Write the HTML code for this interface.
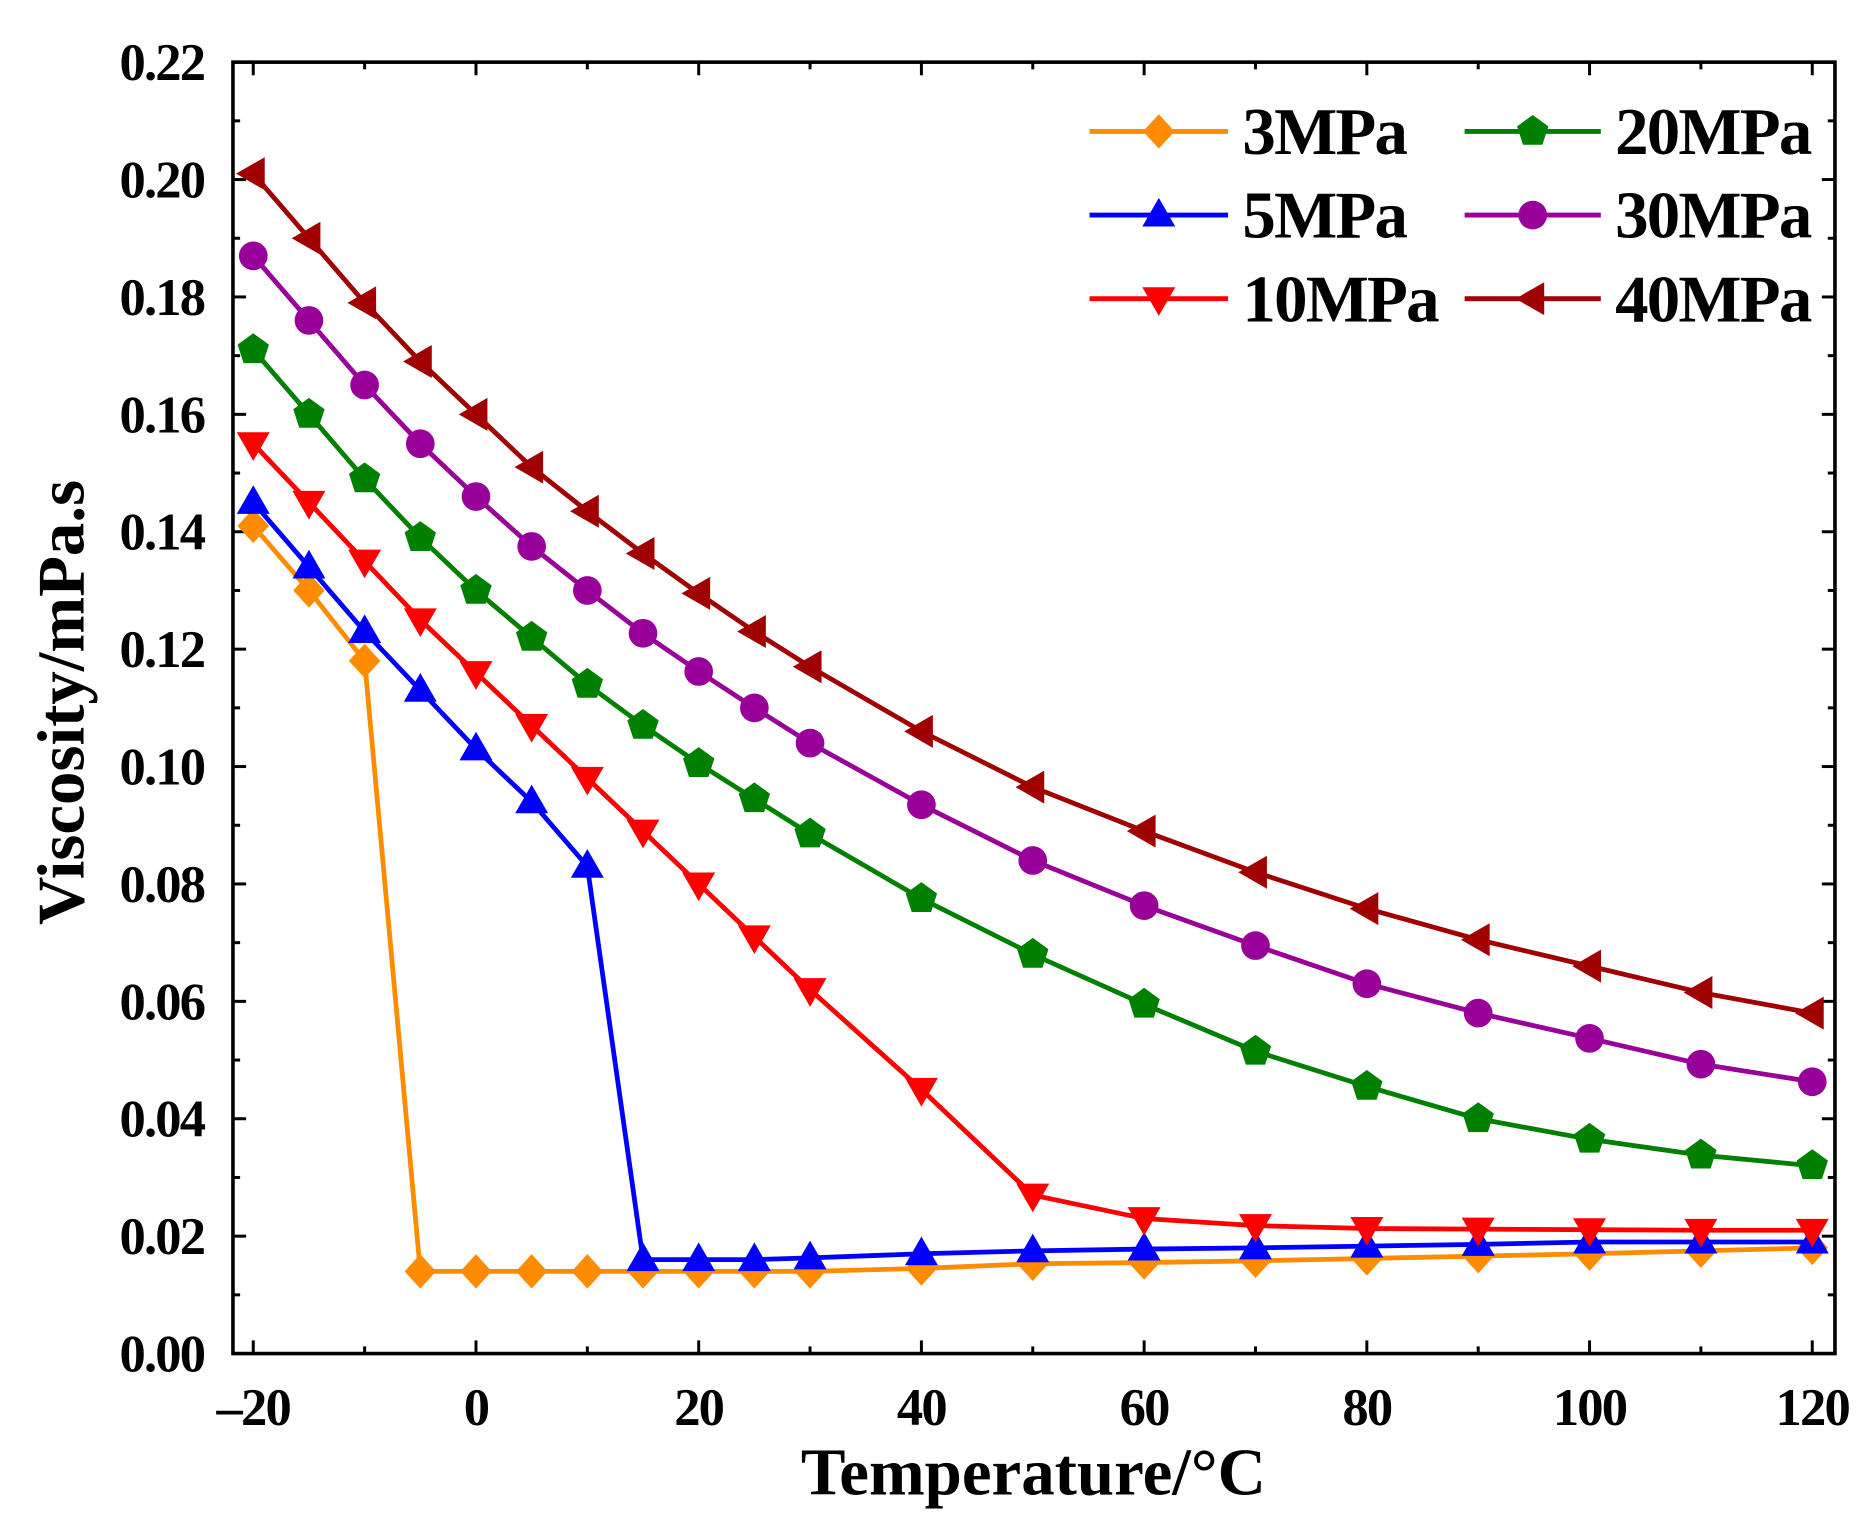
<!DOCTYPE html>
<html><head><meta charset="utf-8"><style>html,body{margin:0;padding:0;background:#fff}svg{display:block}</style></head>
<body>
<svg id="s" width="1872" height="1528" viewBox="0 0 1567 1279" xmlns="http://www.w3.org/2000/svg" font-family="'Liberation Serif',serif" font-weight="bold"></svg>
<script>
const s=document.getElementById('s');let h='';
const X=t=>212+(t+20)*9.3214, Y=v=>1133-v*(1081/0.22);
const L=195,R=1536,T=52,B=1133;
for(let v=0;v<=0.2201;v+=0.01){const y=Y(v);const maj=Math.round(v*100)%2==0;const l=maj?11:6;
h+=`<line x1="${L}" y1="${y}" x2="${L+l}" y2="${y}" stroke="#000" stroke-width="2.5"/><line x1="${R}" y1="${y}" x2="${R-l}" y2="${y}" stroke="#000" stroke-width="2.5"/>`;
if(maj)h+=`<text x="${L-24}" y="${y+15}" font-size="44" text-anchor="end" letter-spacing="-1.5">${v.toFixed(2)}</text>`;}
for(let t=-20;t<=120;t+=10){const x=X(t);const maj=t%20==0;const l=maj?11:6;
h+=`<line x1="${x}" y1="${B}" x2="${x}" y2="${B-l}" stroke="#000" stroke-width="2.5"/><line x1="${x}" y1="${T}" x2="${x}" y2="${T+l}" stroke="#000" stroke-width="2.5"/>`;
if(maj)h+=`<text x="${x}" y="${B+60}" font-size="44" text-anchor="middle" letter-spacing="-1.5">${t<0?'\u2013'+(-t):t}</text>`;}
h+=`<rect x="${L}" y="${T}" width="${R-L}" height="${B-T}" fill="none" stroke="#000" stroke-width="3"/>`;
h+=`<text x="865" y="1251" font-size="56" text-anchor="middle">Temperature/°C</text>`;
h+=`<text transform="translate(70,588) rotate(-90)" font-size="56" text-anchor="middle">Viscosity/mPa.s</text>`;
const ts=[-20,-15,-10,-5,0,5,10,15,20,25,30,40,50,60,70,80,90,100,110,120];
const S=[
['3MPa','#ff8c00','dia',[.141,.130,.118,.014,.014,.014,.014,.014,.014,.014,.014,.0145,.0153,.0155,.0158,.0162,.0166,.017,.0175,.018]],
['5MPa','#0000ff','up',[.145,.134,.123,.113,.103,.094,.083,.016,.016,.016,.0163,.017,.0175,.0178,.018,.0183,.0186,.019,.019,.019]],
['10MPa','#ff0000','down',[.155,.145,.135,.125,.116,.107,.098,.089,.080,.071,.062,.045,.027,.023,.0218,.0213,.0212,.0211,.021,.021]],
['20MPa','#008000','pent',[.171,.160,.149,.139,.130,.122,.114,.107,.1005,.0945,.0885,.0775,.068,.0595,.0515,.0455,.040,.0365,.0338,.032]],
['30MPa','#990099','circ',[.187,.176,.165,.155,.146,.1375,.130,.1227,.1162,.110,.104,.0935,.084,.0763,.0695,.063,.058,.0537,.0493,.0463]],
['40MPa','#a00000','left',[.201,.190,.179,.169,.160,.151,.1435,.1363,.1295,.123,.117,.106,.0965,.089,.082,.0758,.0705,.066,.0615,.058]]];
function mk(type,x,y,c){const r=12;switch(type){
case 'dia':return `<polygon points="${x},${y-r*1.2} ${x+r*1.1},${y} ${x},${y+r*1.2} ${x-r*1.1},${y}" fill="${c}"/>`;
case 'up':return `<polygon points="${x},${y-r*1.2} ${x+r*1.15},${y+r*0.8} ${x-r*1.15},${y+r*0.8}" fill="${c}"/>`;
case 'down':return `<polygon points="${x},${y+r*1.2} ${x+r*1.15},${y-r*0.8} ${x-r*1.15},${y-r*0.8}" fill="${c}"/>`;
case 'left':return `<polygon points="${x-r*1.2},${y} ${x+r*0.8},${y-r*1.15} ${x+r*0.8},${y+r*1.15}" fill="${c}"/>`;
case 'circ':return `<circle cx="${x}" cy="${y}" r="${r}" fill="${c}"/>`;
case 'pent':{let p=[];for(let i=0;i<5;i++){const a=-Math.PI/2+i*2*Math.PI/5;p.push((x+r*1.15*Math.cos(a))+','+(y+r*1.15*Math.sin(a)));}return `<polygon points="${p.join(' ')}" fill="${c}"/>`;}}}
S.forEach(([n,c,m,d])=>{h+=`<polyline fill="none" stroke="${c}" stroke-width="4" points="${d.map((v,i)=>X(ts[i])+','+Y(v)).join(' ')}"/>`;
d.forEach((v,i)=>h+=mk(m,X(ts[i]),Y(v),c));});
S.forEach(([n,c,m],i)=>{const col=i<3?0:1,row=i%3;const x0=col?1226:912,x1=col?1340:1028,tx=col?1352:1040,y=110+row*70;
h+=`<line x1="${x0}" y1="${y}" x2="${x1}" y2="${y}" stroke="${c}" stroke-width="4"/>`+mk(m,(x0+x1)/2,y,c)+`<text x="${tx}" y="${y+19}" font-size="56" letter-spacing="-1.5">${n}</text>`;});
s.innerHTML=h;
</script>
</body></html>
